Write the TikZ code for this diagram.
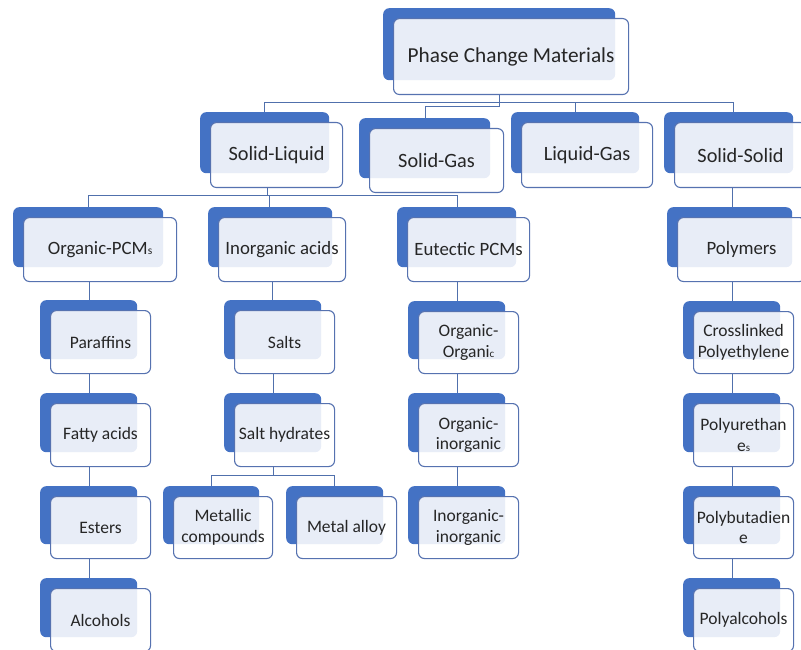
\documentclass[tikz,border=0pt]{standalone}
\usepackage{fontspec}
\setmainfont{Carlito}
\usetikzlibrary{calc}
\pgfdeclarelayer{bg}
\pgfsetlayers{bg,main}
\definecolor{pcmblue}{RGB}{68,114,196}
\definecolor{pcmborder}{RGB}{86,114,176}
\definecolor{pcmline}{RGB}{80,112,172}
\definecolor{pcmtext}{RGB}{38,38,38}
\tikzset{
  backbox/.style={fill=pcmblue, rounded corners=6pt, inner sep=0pt, anchor=north west},
  frontbox/.style={draw=pcmborder, line width=1.1pt, fill=white, fill opacity=0.88,
    text opacity=1, text=pcmtext, rounded corners=6pt, inner sep=1pt,
    anchor=north west, align=center},
  conn/.style={draw=pcmline, line width=1pt},
  lvlzero/.style={font=\fontsize{21.3}{25}\selectfont},
  lvlone/.style={font=\fontsize{20.3}{24}\selectfont},
  lvltwo/.style={font=\fontsize{18.8}{22}\selectfont},
  lvlthree/.style={font=\fontsize{17.5}{20.5}\selectfont},
}
\newcommand\pcmbox[7]{%
  \node[backbox, minimum width={(#4-3)*1pt}, minimum height={(#5-4)*1pt}] (#1b) at (#2-10,#3-10) {};
  \node[frontbox, #6, minimum width=#4pt, minimum height=#5pt] (#1) at (#2,#3) {#7};
}
\begin{document}
\begin{tikzpicture}[x=1pt,y=-1pt]
\useasboundingbox (0,0) rectangle (801,650);
\clip (0,0) rectangle (801,650);
% root
\pcmbox{root}{393}{18}{235}{76}{lvlzero}{Phase Change Materials}
% level 1
\pcmbox{sl}{210}{122}{132}{65}{lvlone}{Solid-Liquid}
\pcmbox{sg}{369}{128}{134}{64}{lvlone}{Solid-Gas}
\pcmbox{lg}{521}{122}{131}{65}{lvlone}{Liquid-Gas}
\pcmbox{ss}{674}{122}{132}{65}{lvlone}{Solid-Solid}
% level 2
\pcmbox{opcm}{23}{217}{153}{64}{lvltwo}{Organic-PCM{\fontsize{11.5}{13}\selectfont s}}
\pcmbox{inac}{218}{217}{127}{64}{lvltwo}{Inorganic acids}
\pcmbox{eut}{407}{217}{122}{64}{lvltwo}{Eutectic PCMs}
\pcmbox{poly}{677}{217}{128}{64}{lvltwo}{Polymers}
% organic column
\pcmbox{paraf}{50}{310}{100}{63}{lvlthree}{Paraffins}
\pcmbox{fatty}{50}{403}{100}{63}{lvlthree}{Fatty acids}
\pcmbox{ester}{50}{496}{100}{62}{lvlthree}{Esters}
\pcmbox{alcoh}{50}{588}{100}{63}{lvlthree}{Alcohols}
% inorganic column
\pcmbox{salts}{234}{310}{100}{63}{lvlthree}{Salts}
\pcmbox{salth}{234}{403}{100}{63}{lvlthree}{Salt hydrates}
\pcmbox{metc}{173}{496}{99}{62}{lvlthree}{Metallic\\compounds}
\pcmbox{meta}{296}{496}{100}{62}{lvlthree}{Metal alloy}
% eutectic column
\pcmbox{oo}{418}{311}{100}{62}{lvlthree}{Organic-\\Organi{\fontsize{11}{13}\selectfont c}}
\pcmbox{oi}{418}{403}{100}{63}{lvlthree}{Organic-\\inorganic}
\pcmbox{ii}{418}{496}{100}{62}{lvlthree}{Inorganic-\\inorganic}
% polymer column
\pcmbox{cross}{693}{311}{100}{62}{lvlthree}{Crosslinked\\Polyethylene}
\pcmbox{pu}{693}{403}{100}{63}{lvlthree}{Polyurethan\\e{\fontsize{11}{13}\selectfont s}}
\pcmbox{pb}{693}{496}{100}{62}{lvlthree}{Polybutadien\\e}
\pcmbox{pa}{693}{588}{100}{63}{lvlthree}{Polyalcohols}
% connectors
\begin{pgfonlayer}{bg}
\coordinate (bzero) at (499,103);
\coordinate (bzerob) at (499,107);
\draw[conn] (root.south -| bzero) -- (bzero);
\draw[conn] ([xshift=54pt]sl.north west) |- (bzero);
\draw[conn] ([xshift=54pt]lg.north west) |- (bzero);
\draw[conn] ([xshift=59pt]ss.north west) |- (bzero);
\draw[conn] ([xshift=56pt]sg.north west) |- (bzerob) -- (bzero);
\coordinate (bone) at (267,196);
\draw[conn] (sl.south -| bone) -- (bone);
\draw[conn] ([xshift=65pt]opcm.north west) |- (bone);
\draw[conn] ([xshift=51pt]inac.north west) |- (bone);
\draw[conn] ([xshift=50pt]eut.north west) |- (bone);
\draw[conn] ([xshift=58pt]ss.south west) -- ([xshift=55pt]poly.north west);
% organic column
\draw[conn] ([xshift=66pt]opcm.south west) -- ([xshift=39pt]paraf.north west);
\draw[conn] ([xshift=39pt]paraf.south west) -- ([xshift=39pt]fatty.north west);
\draw[conn] ([xshift=39pt]fatty.south west) -- ([xshift=39pt]ester.north west);
\draw[conn] ([xshift=39pt]ester.south west) -- ([xshift=39pt]alcoh.north west);
% inorganic column
\draw[conn] ([xshift=54pt]inac.south west) -- ([xshift=38pt]salts.north west);
\draw[conn] ([xshift=39pt]salts.south west) -- ([xshift=39pt]salth.north west);
\coordinate (btwo) at (273,475);
\draw[conn] (salth.south -| btwo) -- (btwo);
\draw[conn] ([xshift=38pt]metc.north west) |- (btwo);
\draw[conn] ([xshift=38pt]meta.north west) |- (btwo);
% eutectic column
\draw[conn] ([xshift=50pt]eut.south west) -- ([xshift=39pt]oo.north west);
\draw[conn] ([xshift=39pt]oo.south west) -- ([xshift=39pt]oi.north west);
\draw[conn] ([xshift=39pt]oi.south west) -- ([xshift=39pt]ii.north west);
% polymer column
\draw[conn] ([xshift=55pt]poly.south west) -- ([xshift=39pt]cross.north west);
\draw[conn] ([xshift=39pt]cross.south west) -- ([xshift=39pt]pu.north west);
\draw[conn] ([xshift=39pt]pu.south west) -- ([xshift=39pt]pb.north west);
\draw[conn] ([xshift=39pt]pb.south west) -- ([xshift=39pt]pa.north west);
\end{pgfonlayer}
\end{tikzpicture}
\end{document}
